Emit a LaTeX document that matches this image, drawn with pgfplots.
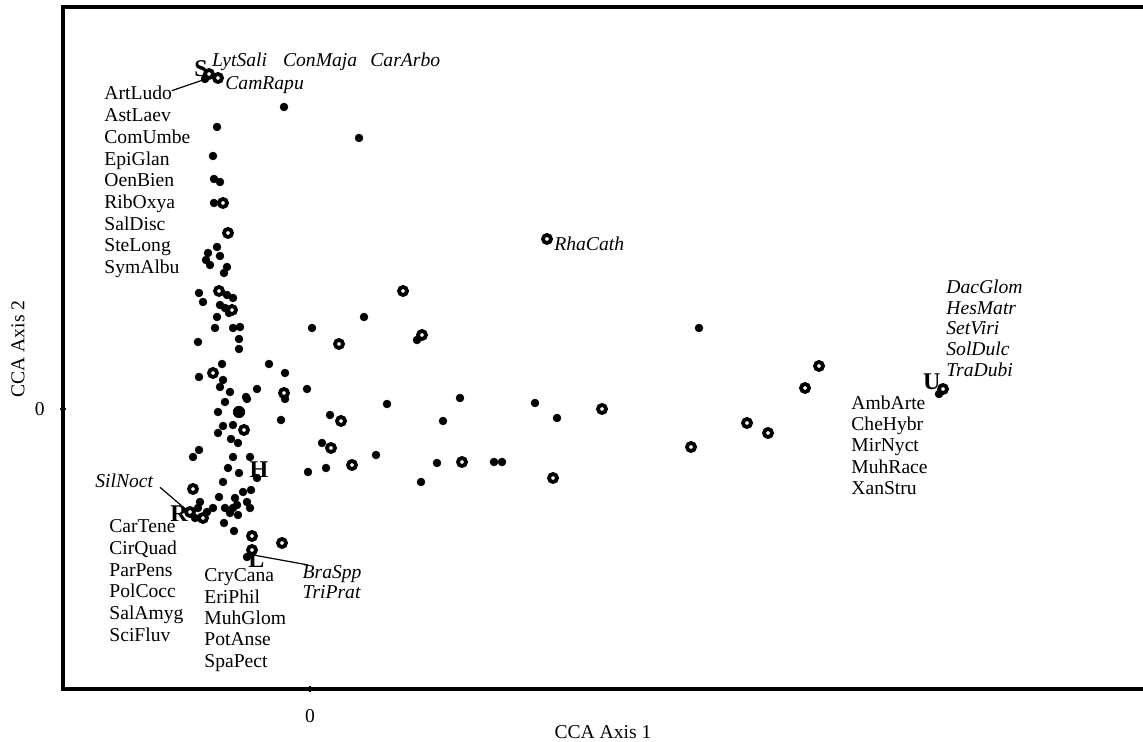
\documentclass[border=0pt]{standalone}
\usepackage{pgfplots}
\pgfplotsset{compat=1.18}
\usepackage{fontspec}
\setmainfont{Liberation Serif}

\begin{document}
\begin{tikzpicture}[every node/.style={font=\fontsize{9.8}{10.85}\selectfont}]
\path[use as bounding box] (0,0) rectangle (571.5pt,371pt);
\clip (0,0) rectangle (571.5pt,371pt);
\begin{axis}[
  scale only axis,
  at={(31.5pt,26.5pt)}, anchor=south west,
  width=544.5pt, height=341pt,
  xmin=-2.47, xmax=8.42, ymin=-2.80, ymax=4.02,
  axis line style={line width=1.8pt},
  xtick={0}, ytick={0},
  tick pos=left,
  major tick length=3pt,
  tick style={line width=0.8pt, black},
  tick align=center,
  /pgf/number format/assume math mode=true,
  xticklabel style={inner sep=0pt, yshift=-8.7pt},
  yticklabel style={inner sep=0pt, xshift=-7.5pt},
  clip=false,
]
% species scores
\addplot[only marks, mark=*, mark size=1.95pt,
  mark options={fill=black, draw=black, line width=0.3pt}] coordinates {
(-1.05,3.30) (-0.26,3.02) (-0.93,2.82) (0.49,2.71) (-0.97,2.53)
(-0.96,2.30) (-0.90,2.27) (-0.96,2.06) (-0.93,1.62) (-1.02,1.56)
(-0.90,1.53) (-1.04,1.49) (-1.00,1.44) (-0.83,1.42) (-0.86,1.36)
(-1.11,1.16) (-0.83,1.14) (-0.77,1.11) (-1.07,1.07) (-0.90,1.04)
(-0.85,1.01) (-0.81,0.96) (-0.93,0.92) (-0.95,0.81) (-0.77,0.81)
(-0.70,0.82) (-0.71,0.70) (-1.12,0.67) (-0.71,0.60) (0.02,0.81)
(-0.41,0.45) (-0.25,0.36) (-0.88,0.45) (-1.11,0.32) (-0.87,0.29)
(-0.90,0.22) (-0.80,0.17) (-0.53,0.20) (-0.64,0.12) (-0.25,0.10)
(-0.03,0.20) (-0.85,0.07) (-0.63,0.10) (-0.92,-0.03) (-0.87,-0.17)
(-0.77,-0.16) (-0.92,-0.24) (-0.29,-0.11) (-0.79,-0.30) (-0.72,-0.34)
(-1.11,-0.41) (-1.17,-0.48) (-0.77,-0.48) (-0.60,-0.48) (-0.82,-0.59)
(-0.71,-0.64) (-0.53,-0.69) (-0.02,-0.63) (-0.87,-0.73) (-0.91,-0.88)
(-0.67,-0.83) (-0.59,-0.81) (-1.10,-0.93) (-0.75,-0.89) (-1.12,-0.99)
(-1.15,-1.09) (-0.97,-0.99) (-1.03,-1.03) (-0.85,-0.99) (-0.77,-0.99)
(-0.80,-1.04) (-0.72,-1.06) (-0.60,-0.99) (-0.63,-0.93) (-0.73,-0.96)
(-0.86,-1.14) (-0.76,-1.22) (-0.63,-1.48)
(0.54,0.92) (1.07,0.69) (3.89,0.81) (0.77,0.05) (1.50,0.11)
(0.20,-0.06) (1.33,-0.12) (2.25,0.06) (2.47,-0.09) (0.12,-0.34)
(0.66,-0.46) (0.16,-0.59) (1.27,-0.54) (1.84,-0.53) (1.92,-0.53)
(1.11,-0.73) (6.29,0.15)
};
% two coinciding scores
\addplot[only marks, mark=*, mark size=2.9pt,
  mark options={fill=black, draw=black, line width=0.3pt}] coordinates {
(-0.71,-0.03)
};
% sample scores
\addplot[only marks, mark=*, mark size=2.0pt,
  mark options={fill=white, draw=black, line width=1.9pt}] coordinates {
(-1.01,3.35) (-0.92,3.31) (-0.87,2.06) (-0.82,1.76) (-0.91,1.18)
(-0.78,0.99) (-0.97,0.36) (-0.26,0.16) (-0.66,-0.21) (-1.17,-0.80)
(-1.20,-1.03) (-1.07,-1.09) (-0.58,-1.27) (-0.28,-1.34) (-0.58,-1.41)
(2.37,1.70) (0.93,1.18) (0.29,0.65) (1.12,0.74) (0.31,-0.12)
(2.92,0.00) (0.21,-0.39) (0.42,-0.56) (1.52,-0.53) (2.43,-0.69)
(3.81,-0.38) (4.37,-0.14) (4.58,-0.24) (4.95,0.21) (5.09,0.43)
(6.33,0.20)
};

% leader lines
\draw[line width=0.6pt] (axis cs:-1.383,3.183) -- (axis cs:-1.07,3.29);
\draw[line width=0.6pt] (axis cs:-1.50,-0.783) -- (axis cs:-1.223,-1.02);
\draw[line width=0.6pt] (axis cs:-0.567,-1.46) -- (axis cs:-0.017,-1.56);

% habitat centroids
\begin{scope}[every node/.style={font=\fontsize{12}{14}\selectfont\bfseries, inner sep=0pt, anchor=base west}]
\node at (axis cs:-1.16,3.323) {S};
\node at (axis cs:6.127,0.19) {U};
\node at (axis cs:-0.607,-0.69) {H};
\node at (axis cs:-1.40,-1.127) {R};
\node at (axis cs:-0.62,-1.585) {L};
\end{scope}

\begin{scope}[every node/.style={font=\fontsize{9.8}{10.85}\selectfont, inner sep=0pt, anchor=base west}]
% italic species
\node at (axis cs:-0.983,3.423) {\textit{LytSali}};
\node at (axis cs:-0.273,3.423) {\textit{ConMaja}};
\node at (axis cs:0.60,3.423) {\textit{CarArbo}};
\node at (axis cs:-0.85,3.197) {\textit{CamRapu}};
\node at (axis cs:2.44,1.583) {\textit{RhaCath}};
\node at (axis cs:-2.15,-0.783) {\textit{SilNoct}};
\node at (axis cs:-0.077,-1.693) {\textit{BraSpp}};
\node at (axis cs:-0.077,-1.90) {\textit{TriPrat}};
\node at (axis cs:6.36,1.157) {\textit{DacGlom}};
\node at (axis cs:6.36,0.947) {\textit{HesMatr}};
\node at (axis cs:6.36,0.740) {\textit{SetViri}};
\node at (axis cs:6.36,0.530) {\textit{SolDulc}};
\node at (axis cs:6.36,0.323) {\textit{TraDubi}};
% upper-left list
\node at (axis cs:-2.06,3.090) {ArtLudo};
\node at (axis cs:-2.06,2.873) {AstLaev};
\node at (axis cs:-2.06,2.656) {ComUmbe};
\node at (axis cs:-2.06,2.439) {EpiGlan};
\node at (axis cs:-2.06,2.222) {OenBien};
\node at (axis cs:-2.06,2.005) {RibOxya};
\node at (axis cs:-2.06,1.788) {SalDisc};
\node at (axis cs:-2.06,1.571) {SteLong};
\node at (axis cs:-2.06,1.354) {SymAlbu};
% lower-left list
\node at (axis cs:-2.01,-1.240) {CarTene};
\node at (axis cs:-2.01,-1.457) {CirQuad};
\node at (axis cs:-2.01,-1.673) {ParPens};
\node at (axis cs:-2.01,-1.890) {PolCocc};
\node at (axis cs:-2.01,-2.107) {SalAmyg};
\node at (axis cs:-2.01,-2.323) {SciFluv};
% lower-middle list
\node at (axis cs:-1.06,-1.727) {CryCana};
\node at (axis cs:-1.06,-1.943) {EriPhil};
\node at (axis cs:-1.06,-2.153) {MuhGlom};
\node at (axis cs:-1.06,-2.370) {PotAnse};
\node at (axis cs:-1.06,-2.583) {SpaPect};
% right list
\node at (axis cs:5.41,-0.003) {AmbArte};
\node at (axis cs:5.41,-0.216) {CheHybr};
\node at (axis cs:5.41,-0.429) {MirNyct};
\node at (axis cs:5.41,-0.642) {MuhRace};
\node at (axis cs:5.41,-0.855) {XanStru};
% axis titles
\node[anchor=base] at (axis cs:2.93,-3.30) {CCA Axis 1};
\node[anchor=center, rotate=90] at (axis cs:-2.92,0.60) {CCA Axis 2};
\end{scope}
\end{axis}
\end{tikzpicture}
\end{document}
